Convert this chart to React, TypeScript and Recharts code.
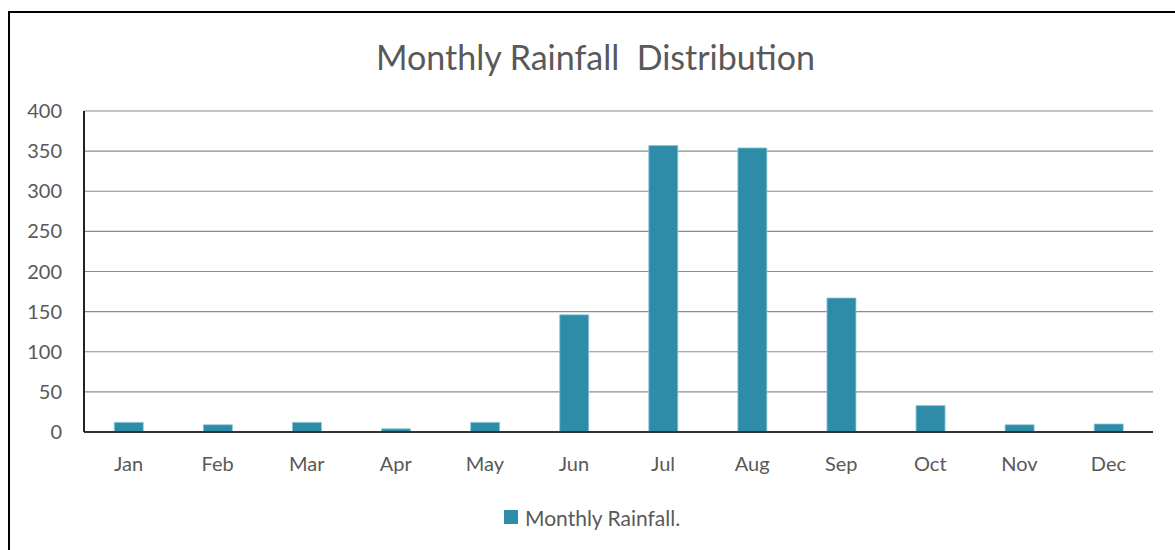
import React from 'react';
import { BarChart, Bar, XAxis, YAxis, CartesianGrid } from 'recharts';

const months = ['Jan', 'Feb', 'Mar', 'Apr', 'May', 'Jun', 'Jul', 'Aug', 'Sep', 'Oct', 'Nov', 'Dec'];
const rainfall = [12, 9, 12, 4, 12, 146, 357, 354, 167, 33, 9, 10];
const yTicks = [0, 50, 100, 150, 200, 250, 300, 350, 400];

const chartData = months.map((month, i) => ({ month, rainfall: rainfall[i] }));

const FONT = 'Lato, "Open Sans", sans-serif';
const TEXT = '#595959';
const BAR = '#2E8CA8';

const App: React.FC = () => {
  return (
    <div style={{ position: 'absolute', left: 0, top: 0, width: 1175, height: 550, overflow: 'hidden', background: '#fff' }}>
      <div
        style={{
          position: 'absolute',
          left: 8,
          top: 11,
          width: 1220,
          height: 600,
          border: '2px solid #000',
        }}
      />
      <div
        style={{
          position: 'absolute',
          left: 0,
          top: 37,
          width: 1191,
          textAlign: 'center',
          fontFamily: FONT,
          fontSize: 34,
          lineHeight: '40px',
          color: TEXT,
          whiteSpace: 'pre',
        }}
      >
        {'Monthly Rainfall  Distribution'}
      </div>
      <div style={{ position: 'absolute', left: 0, top: 0 }}>
        <BarChart
          width={1175}
          height={550}
          data={chartData}
          margin={{ top: 111, right: 22, bottom: 88, left: 0 }}
          barCategoryGap="34%"
        >
          <CartesianGrid vertical={false} stroke="#8c8c8c" strokeWidth={1.2} />
          <XAxis
            dataKey="month"
            height={30}
            tickLine={false}
            tickSize={0}
            tickMargin={25}
            axisLine={{ stroke: '#333', strokeWidth: 2 }}
            tick={{ fill: TEXT, fontSize: 20, fontFamily: FONT }}
            interval={0}
          />
          <YAxis
            width={84}
            domain={[0, 400]}
            ticks={yTicks}
            tickLine={false}
            tickSize={0}
            tickMargin={22}
            axisLine={{ stroke: '#222', strokeWidth: 2 }}
            tick={{ fill: TEXT, fontSize: 20, fontFamily: FONT }}
            interval={0}
          />
          <Bar
            dataKey="rainfall"
            name="Monthly Rainfall."
            fill={BAR}
            stroke="#8fc6d6"
            strokeWidth={0.8}
            isAnimationActive={false}
          />
        </BarChart>
      </div>
      <div
        style={{
          position: 'absolute',
          left: 504,
          top: 504,
          display: 'flex',
          alignItems: 'center',
          height: 26,
          fontFamily: FONT,
        }}
      >
        <span style={{ display: 'inline-block', width: 14, height: 14, background: BAR, marginRight: 7 }} />
        <span style={{ fontSize: 21, color: TEXT }}>Monthly Rainfall.</span>
      </div>
    </div>
  );
};

export default App;
